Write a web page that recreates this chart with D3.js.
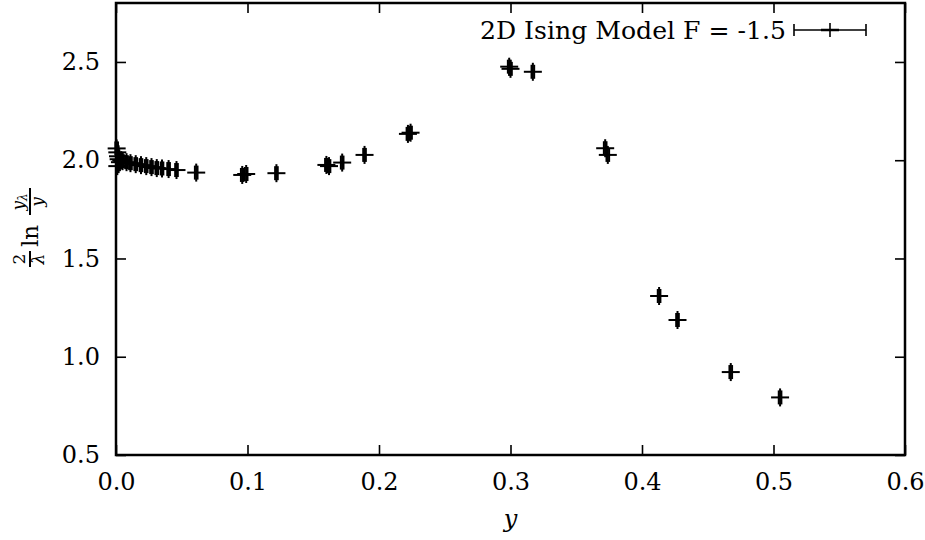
<!DOCTYPE html>
<html><head><meta charset="utf-8">
<script src="https://cdn.jsdelivr.net/npm/d3@7"></script>
<style>body{margin:0;background:#fff}svg{display:block}</style>
</head><body>
<script>
const seriesName = "2D Ising Model F = -1.5";
const xVals = [0.0005,0.001,0.0015,0.002,0.003,0.001,0.004,0.005,0.008,0.011,0.015,0.019,0.023,0.027,0.031,0.035,0.040,0.046,0.061,0.096,0.099,0.122,0.160,0.162,0.172,0.189,0.222,0.224,0.299,0.300,0.317,0.372,0.374,0.413,0.427,0.4675,0.505];
const yVals = [2.06,2.04,2.02,2.005,1.99,1.97,2.00,1.995,1.99,1.985,1.98,1.975,1.97,1.965,1.96,1.958,1.955,1.95,1.937,1.925,1.93,1.934,1.976,1.97,1.988,2.027,2.134,2.14,2.476,2.465,2.45,2.061,2.027,1.309,1.187,0.922,0.793];
const xErr = xVals.map(()=>0.001);
const xTicks = [0.0,0.1,0.2,0.3,0.4,0.5,0.6];
const yTicks = [0.5,1.0,1.5,2.0,2.5];

const W=925,H=540;
const m={l:116,r:20,t:3,b:85};
const FF='"DejaVu Serif", "Liberation Serif", serif';
const svg=d3.select("body").append("svg").attr("width",W).attr("height",H);
const x=d3.scaleLinear().domain([0,0.6]).range([m.l,W-m.r]);
const y=d3.scaleLinear().domain([0.5,2.8]).range([H-m.b,m.t]);
const fs=24;
function T(sel,size,italic){return sel.style("font-family",FF).style("font-size",size+"px").style("font-style",italic?"italic":"normal").style("fill","#000");}

const ax=d3.axisBottom(x).tickValues(xTicks).tickFormat(d3.format(".1f")).tickSizeInner(-10).tickSizeOuter(0).tickPadding(18);
const ay=d3.axisLeft(y).tickValues(yTicks).tickFormat(d3.format(".1f")).tickSizeInner(-10).tickSizeOuter(0).tickPadding(16);
const axT=d3.axisTop(x).tickValues(xTicks).tickFormat("").tickSizeInner(-10).tickSizeOuter(0);
const ayR=d3.axisRight(y).tickValues(yTicks).tickFormat("").tickSizeInner(-10).tickSizeOuter(0);
function style(g){g.select(".domain").remove();g.selectAll("line").attr("stroke","#000").attr("stroke-width",1.6);
 T(g.selectAll("text"),fs,false);}
svg.append("g").attr("transform",`translate(0,${H-m.b})`).call(ax).call(style);
svg.append("g").attr("transform",`translate(${m.l},0)`).call(ay).call(style);
svg.append("g").attr("transform",`translate(0,${m.t})`).call(axT).call(style);
svg.append("g").attr("transform",`translate(${W-m.r},0)`).call(ayR).call(style);
svg.append("rect").attr("x",m.l).attr("y",m.t).attr("width",W-m.r-m.l).attr("height",H-m.b-m.t)
 .attr("fill","none").attr("stroke","#000").attr("stroke-width",2.5);

const data=xVals.map((v,i)=>({x:v,y:yVals[i],e:xErr[i]}));
const gp=svg.append("g").attr("stroke","#000").attr("stroke-width",2);
const ps=9, cap=7;
data.forEach(d=>{
  const cx=x(d.x), cy=y(d.y), x0=x(d.x-d.e), x1=x(d.x+d.e);
  gp.append("line").attr("x1",x0).attr("x2",x1).attr("y1",cy).attr("y2",cy);
  gp.append("line").attr("x1",x0).attr("x2",x0).attr("y1",cy-cap).attr("y2",cy+cap);
  gp.append("line").attr("x1",x1).attr("x2",x1).attr("y1",cy-cap).attr("y2",cy+cap);
  gp.append("line").attr("x1",cx-ps).attr("x2",cx+ps).attr("y1",cy).attr("y2",cy);
  gp.append("line").attr("x1",cx).attr("x2",cx).attr("y1",cy-ps).attr("y2",cy+ps);
});

// legend
const lx1=794,lx2=866,ly=30;
T(svg.append("text").attr("x",786).attr("y",ly+9).attr("text-anchor","end"),25,false)
  .attr("textLength",306).attr("lengthAdjust","spacingAndGlyphs").text(seriesName);
const lg=svg.append("g").attr("stroke","#000").attr("stroke-width",1.6);
lg.append("line").attr("x1",lx1).attr("x2",lx2).attr("y1",ly).attr("y2",ly);
lg.append("line").attr("x1",lx1).attr("x2",lx1).attr("y1",ly-6).attr("y2",ly+6);
lg.append("line").attr("x1",lx2).attr("x2",lx2).attr("y1",ly-6).attr("y2",ly+6);
lg.append("line").attr("x1",(lx1+lx2)/2-9).attr("x2",(lx1+lx2)/2+9).attr("y1",ly).attr("y2",ly).attr("stroke-width",2.5);
lg.append("line").attr("x1",(lx1+lx2)/2).attr("x2",(lx1+lx2)/2).attr("y1",ly-7).attr("y2",ly+7);

// x label
T(svg.append("text").attr("x",(m.l+W-m.r)/2).attr("y",527).attr("text-anchor","middle"),fs,true).text("y");

// y label: (2/λ) ln (y_λ / y)
const yl=svg.append("g").attr("transform","translate(30,228) rotate(-90)");
const sf=17;
T(yl.append("text").attr("x",-31).attr("y",-5).attr("text-anchor","middle"),sf,false).text("2");
yl.append("line").attr("x1",-39).attr("x2",-23).attr("y1",0).attr("y2",0).attr("stroke","#000").attr("stroke-width",2);
T(yl.append("text").attr("x",-31).attr("y",14).attr("text-anchor","middle"),sf,true).text("λ");
T(yl.append("text").attr("x",-19).attr("y",8),23,false).text("ln");
const num=T(yl.append("text").attr("x",26).attr("y",-6).attr("text-anchor","middle"),sf,true);
num.append("tspan").text("y");
num.append("tspan").style("font-size","12px").attr("dy",3).text("λ");
yl.append("line").attr("x1",13).attr("x2",40).attr("y1",0).attr("y2",0).attr("stroke","#000").attr("stroke-width",2);
T(yl.append("text").attr("x",26).attr("y",13).attr("text-anchor","middle"),sf,true).text("y");
</script>
</body></html>
